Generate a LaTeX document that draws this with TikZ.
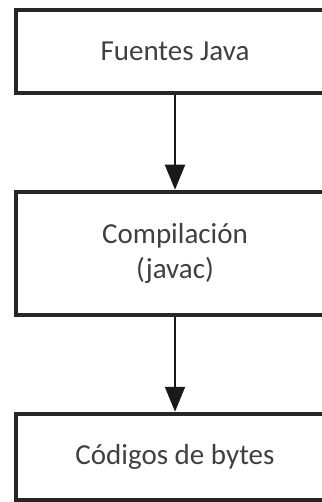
\documentclass[tikz,border=0pt]{standalone}
\usepackage{fontspec}
\setmainfont{Carlito}
\usetikzlibrary{arrows.meta}

\begin{document}
\begin{tikzpicture}[x=1pt,y=-1pt,
    paso/.style={draw=black!85, line width=4.5pt, minimum width=318pt, inner sep=0pt,
        text=black!75, align=center, font=\fontsize{29}{35}\selectfont},
    flecha/.style={line width=2pt, draw=black!90, -{Triangle[width=20pt,length=25pt]}}]
    \useasboundingbox (0,0) rectangle (321,502);
    \node[paso, minimum height=83pt] (fuentes) at (175,51.5) {Fuentes Java};
    \node[paso, minimum height=123pt] (compila) at (175,253.5) {Compilación\\(javac)};
    \node[paso, minimum height=86pt] (bytes) at (175,457) {Códigos de bytes};
    \draw[flecha] (fuentes) -- (compila);
    \draw[flecha] (compila) -- (bytes);
\end{tikzpicture}
\end{document}
